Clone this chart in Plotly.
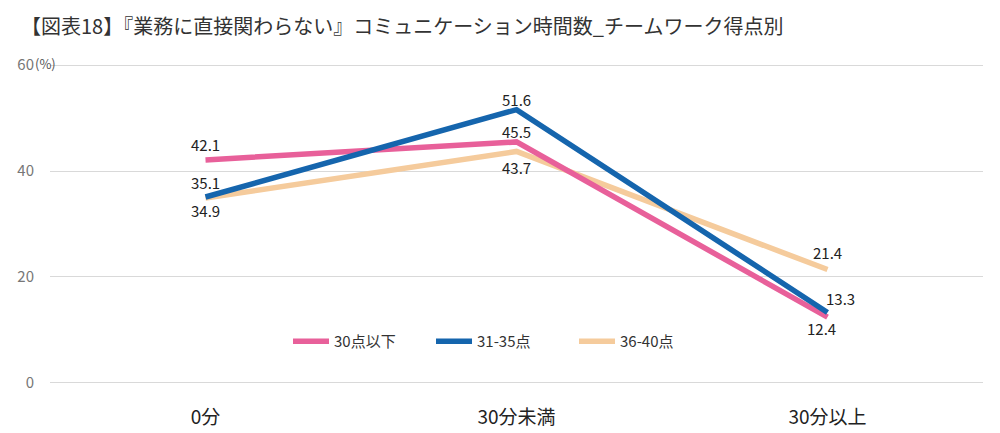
import plotly.graph_objects as go

categories = ["0分", "30分未満", "30分以上"]
series_names = ["30点以下", "31-35点", "36-40点"]
s_low = [42.1, 45.5, 12.4]
s_mid = [35.1, 51.6, 13.3]
s_high = [34.9, 43.7, 21.4]
y_ticks = [0, 20, 40, 60]

FONT = "Noto Sans CJK JP"
colors = ["#E8609A", "#1565AD", "#F5CB9C"]
# label offsets in pixels (dx, dy) per point
offsets = [
    [(0, 15), (0, 10), (-6, -11)],
    [(0, 14), (0, 10), (13, 14)],
    [(0, -12), (0, -16), (0, 17)],
]

fig = go.Figure()
order = [2, 0, 1]  # draw beige, pink, blue on top
ranks = {0: 1, 1: 2, 2: 3}
all_vals = [s_low, s_mid, s_high]
for i in order:
    fig.add_trace(go.Scatter(
        x=categories, y=all_vals[i], name=series_names[i], mode="lines",
        line=dict(color=colors[i], width=5.5), legendrank=ranks[i],
        hoverinfo="skip",
    ))

for i, vals in enumerate(all_vals):
    for c, v, (dx, dy) in zip(categories, vals, offsets[i]):
        fig.add_annotation(x=c, y=v, text=f"{v:.1f}", showarrow=False,
                           xshift=dx, yshift=dy, xanchor="center", yanchor="middle",
                           font=dict(family=FONT, size=15, color="#222222"))

fig.update_layout(
    width=1000, height=433,
    margin=dict(l=42, r=25, t=55, b=56),
    plot_bgcolor="white", paper_bgcolor="white",
    font=dict(family=FONT, color="#333333"),
    title=dict(text="【図表18】『業務に直接関わらない』コミュニケーション時間数_チームワーク得点別",
               x=0.013, xanchor="left", y=0.955, yanchor="middle",
               font=dict(family=FONT, size=20, color="#333333")),
    showlegend=True,
    legend=dict(orientation="h", x=0.485, xanchor="center", y=0.135, yanchor="middle",
                font=dict(family=FONT, size=15, color="#333333"),
                itemwidth=36, entrywidth=92, bgcolor="rgba(0,0,0,0)"),
    xaxis=dict(range=[-0.5, 2.5], showgrid=False, zeroline=False, showline=False,
               automargin=False,
               tickfont=dict(family=FONT, size=19, color="#222222"), ticklabelstandoff=19),
    yaxis=dict(range=[-0.4, 60.4], tickvals=y_ticks, showgrid=True, gridcolor="#D9D9D9",
               gridwidth=1, zeroline=False, showline=False, automargin=False,
               tickfont=dict(family=FONT, size=15, color="#777777"), ticklabelstandoff=15),
)

fig.add_annotation(text="(%)", xref="paper", yref="paper", x=-0.005, y=0.997,
                   xanchor="center", yanchor="middle", showarrow=False,
                   font=dict(family=FONT, size=13, color="#555555"))

fig.write_html("out.html")
